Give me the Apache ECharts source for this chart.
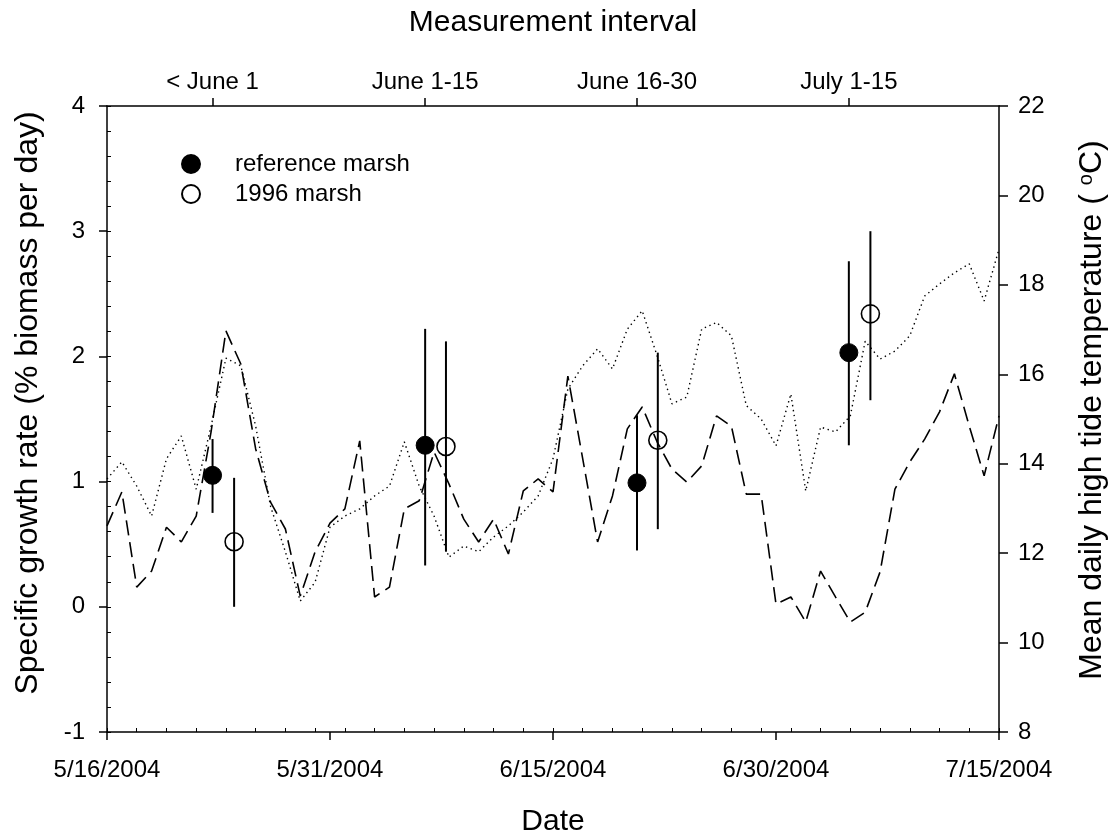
<!DOCTYPE html>
<html><head><meta charset="utf-8">
<script src="https://cdn.jsdelivr.net/npm/echarts@6/dist/echarts.min.js"></script>
<style>html,body{margin:0;padding:0;background:#fff}#c{width:1116px;height:834px}</style>
</head><body><div id="c"></div>
<script>
// ---- data ----
const dateTicks = ['5/16/2004', '5/31/2004', '6/15/2004', '6/30/2004', '7/15/2004'];
const intervalLabels = ['< June 1', 'June 1-15', 'June 16-30', 'July 1-15'];
const intervalDays = [7.1, 21.4, 35.65, 49.9];

// daily mean high tide temperature (deg C), day 0 = 5/16/2004
const tempDashed = [12.61, 13.37, 11.24, 11.60, 12.58, 12.25, 12.83, 14.71, 16.97, 16.23,
  14.33, 13.14, 12.54, 11.04, 12.03, 12.67, 12.99, 14.51, 11.02, 11.24,
  12.99, 13.17, 14.26, 13.55, 12.76, 12.25, 12.76, 11.98, 13.39, 13.66,
  13.37, 15.96, 14.11, 12.25, 13.28, 14.78, 15.27, 14.49, 13.88, 13.59,
  13.95, 15.07, 14.84, 13.32, 13.32, 10.86, 11.02, 10.46, 11.60, 11.02,
  10.46, 10.68, 11.58, 13.43, 14.04, 14.55, 15.16, 16.01, 14.84, 13.73, 15.07];
const tempDotted = [13.66, 14.04, 13.50, 12.83, 14.11, 14.62, 13.43, 14.84, 16.36, 16.19,
  14.84, 13.05, 12.03, 10.93, 11.35, 12.58, 12.83, 12.99, 13.28, 13.50,
  14.49, 13.50, 12.83, 11.91, 12.16, 12.03, 12.36, 12.61, 12.92, 13.28,
  14.11, 15.67, 16.19, 16.57, 16.12, 17.01, 17.42, 16.42, 15.34, 15.49,
  17.01, 17.16, 16.86, 15.30, 15.00, 14.40, 15.56, 13.39, 14.82, 14.71,
  15.07, 16.74, 16.34, 16.52, 16.86, 17.75, 18.02, 18.27, 18.47, 17.64, 18.80];

// specific growth rate (% biomass per day)
const refDay = [7.1, 21.4, 35.65, 49.9];
const refRate = [1.05, 1.29, 0.99, 2.03];
const refLow = [0.75, 0.33, 0.45, 1.29];
const refHigh = [1.34, 2.22, 1.53, 2.76];
const m96Day = [8.55, 22.8, 37.05, 51.35];
const m96Rate = [0.52, 1.28, 1.33, 2.34];
const m96Low = [0.00, 0.44, 0.62, 1.65];
const m96High = [1.03, 2.12, 2.03, 3.00];

// ---- chart ----
const FONT = '"Liberation Sans", Arial, sans-serif';
const BLACK = '#000';
const axisLineStyle = { show: true, onZero: false, lineStyle: { color: BLACK, width: 1.5 } };
const tickStyle = { color: BLACK, width: 1.5 };

const chart = echarts.init(document.getElementById('c'), null, { renderer: 'canvas' });

function errBar(params, api) {
  const x = api.value(0);
  const p1 = api.coord([x, api.value(1)]);
  const p2 = api.coord([x, api.value(2)]);
  return { type: 'line', shape: { x1: p1[0], y1: p1[1], x2: p2[0], y2: p2[1] },
    style: { stroke: BLACK, lineWidth: 2 } };
}

const option = {
  animation: false,
  backgroundColor: '#fff',
  textStyle: { fontFamily: FONT, color: BLACK },
  grid: { left: 107, right: 117, top: 106, bottom: 102, containLabel: false, outerBoundsMode: 'none' },
  legend: {
    data: ['reference marsh', '1996 marsh'],
    orient: 'vertical', left: 176, top: 147,
    itemWidth: 18, itemHeight: 18, itemGap: 6,
    icon: 'circle',
    textStyle: { fontFamily: FONT, fontSize: 24, color: BLACK, padding: [0, 0, 0, 30] }
  },
  xAxis: [
    {
      type: 'value', position: 'bottom', min: 0, max: 60, interval: 15,
      axisLine: axisLineStyle,
      axisTick: { show: true, length: 8, lineStyle: tickStyle },
      axisLabel: { fontFamily: FONT, fontSize: 24, color: BLACK, margin: 26,
        formatter: v => dateTicks[Math.round(v / 15)] },
      splitLine: { show: false },
      name: 'Date', nameLocation: 'middle', nameGap: 75,
      nameTextStyle: { fontFamily: FONT, fontSize: 30, color: BLACK }
    },
    {
      type: 'value', position: 'top', min: 0, max: 60,
      axisLine: axisLineStyle,
      axisTick: { show: true, length: 8, lineStyle: tickStyle, customValues: intervalDays },
      axisLabel: { fontFamily: FONT, fontSize: 24, color: BLACK, margin: 12, customValues: intervalDays,
        formatter: v => { const i = intervalDays.findIndex(d => Math.abs(d - v) < 1e-6); return i >= 0 ? intervalLabels[i] : ''; } },
      splitLine: { show: false },
      name: 'Measurement interval', nameLocation: 'middle', nameGap: 68,
      nameTextStyle: { fontFamily: FONT, fontSize: 30, color: BLACK }
    },
    {
      type: 'value', position: 'bottom', min: 0, max: 60, interval: 2,
      axisLine: { show: false, onZero: false },
      axisTick: { show: true, inside: true, length: 4, lineStyle: { color: BLACK, width: 1 } },
      axisLabel: { show: false },
      splitLine: { show: false }
    }
  ],
  yAxis: [
    {
      type: 'value', position: 'left', min: -1, max: 4, interval: 1,
      axisLine: axisLineStyle,
      axisTick: { show: true, length: 8, lineStyle: tickStyle },
      axisLabel: { fontFamily: FONT, fontSize: 24, color: BLACK, margin: 22 },
      splitLine: { show: false },
      name: 'Specific growth rate (% biomass per day)', nameLocation: 'middle', nameGap: 63, nameRotate: 90,
      nameTextStyle: { fontFamily: FONT, fontSize: 32, color: BLACK, padding: [0, 0, 0, 32] }
    },
    {
      type: 'value', position: 'right', min: 8, max: 22, interval: 2,
      axisLine: axisLineStyle,
      axisTick: { show: true, length: 9, lineStyle: tickStyle },
      axisLabel: { fontFamily: FONT, fontSize: 24, color: BLACK, margin: 19 },
      splitLine: { show: false },
      name: 'Mean daily high tide temperature ( {sup|o}C)', nameLocation: 'middle', nameGap: 77, nameRotate: 90,
      nameTextStyle: { fontFamily: FONT, fontSize: 32, color: BLACK, padding: [0, 0, 0, 18],
        rich: { sup: { fontFamily: FONT, fontSize: 20, color: BLACK, verticalAlign: 'top', lineHeight: 20 } } }
    },
    {
      type: 'value', position: 'left', min: -1, max: 4, interval: 0.2,
      axisLine: { show: false, onZero: false },
      axisTick: { show: true, inside: true, length: 4, lineStyle: { color: BLACK, width: 1 } },
      axisLabel: { show: false },
      splitLine: { show: false }
    }
  ],
  series: [
    {
      name: 'temperature (dashed)', type: 'line', xAxisIndex: 0, yAxisIndex: 1,
      data: tempDashed.map((t, i) => [i, t]), symbol: 'none', z: 2,
      lineStyle: { color: BLACK, width: 1.6, type: [15, 7] }
    },
    {
      name: 'temperature (dotted)', type: 'line', xAxisIndex: 0, yAxisIndex: 1,
      data: tempDotted.map((t, i) => [i, t]), symbol: 'none', z: 2,
      lineStyle: { color: BLACK, width: 1.4, type: [1.4, 3.6] }
    },
    {
      name: 'ref err', type: 'custom', xAxisIndex: 0, yAxisIndex: 0, z: 3,
      renderItem: errBar, encode: { x: 0, y: [1, 2] },
      data: refDay.map((d, i) => [d, refLow[i], refHigh[i]])
    },
    {
      name: '1996 err', type: 'custom', xAxisIndex: 0, yAxisIndex: 0, z: 3,
      renderItem: errBar, encode: { x: 0, y: [1, 2] },
      data: m96Day.map((d, i) => [d, m96Low[i], m96High[i]])
    },
    {
      name: 'reference marsh', type: 'scatter', xAxisIndex: 0, yAxisIndex: 0, z: 4,
      symbol: 'circle', symbolSize: 18,
      itemStyle: { color: BLACK, borderColor: BLACK, borderWidth: 1, opacity: 1 },
      data: refDay.map((d, i) => [d, refRate[i]])
    },
    {
      name: '1996 marsh', type: 'scatter', xAxisIndex: 0, yAxisIndex: 0, z: 4,
      symbol: 'circle', symbolSize: 18,
      itemStyle: { color: 'rgba(255,255,255,0)', borderColor: BLACK, borderWidth: 1.6, opacity: 1 },
      data: m96Day.map((d, i) => [d, m96Rate[i]])
    }
  ]
};
chart.setOption(option);
</script>
</body></html>
